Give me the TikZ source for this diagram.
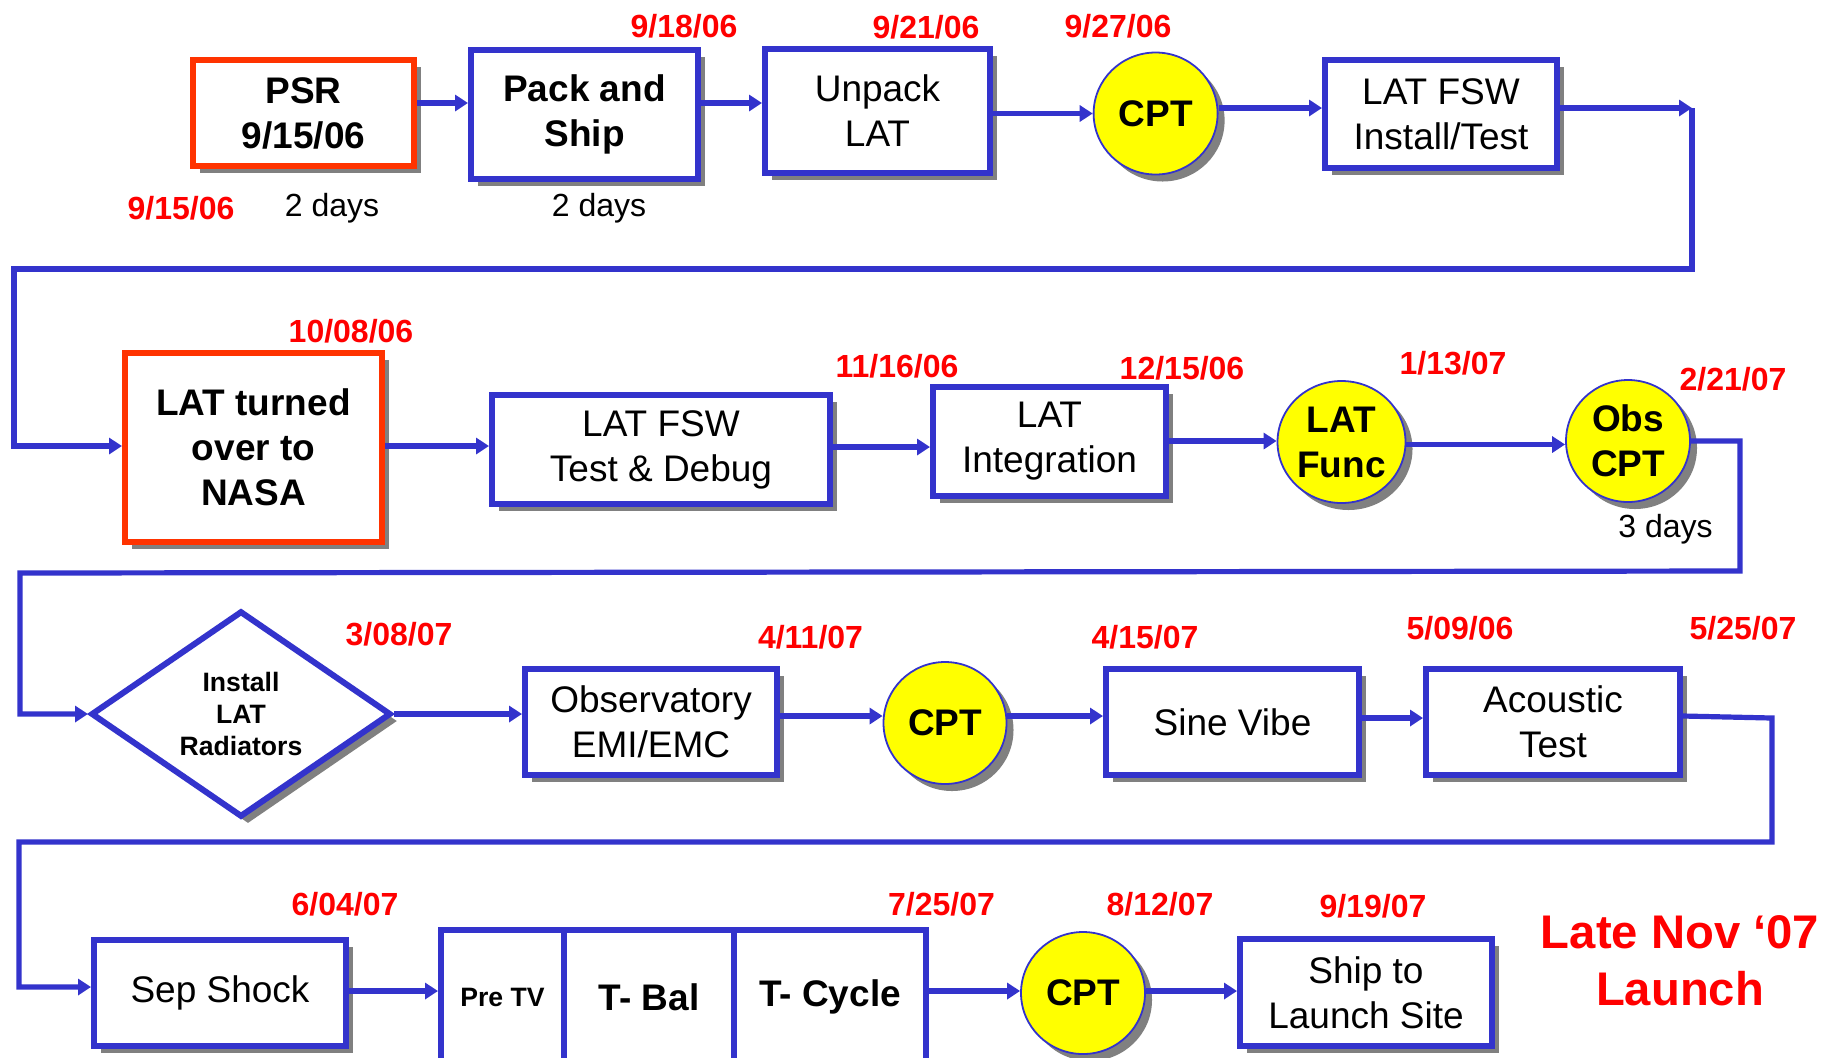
\documentclass[tikz,border=0pt]{standalone}
\usepackage{fontspec}
\setmainfont{Liberation Sans}
\usetikzlibrary{arrows.meta,shapes.geometric,shadows}
\definecolor{lblue}{HTML}{3333CC}
\definecolor{lred}{HTML}{FF0000}
\definecolor{bred}{HTML}{FF3300}
\definecolor{lyel}{HTML}{FFFF00}
\definecolor{shdgray}{HTML}{808080}
\newcommand\normtxt{\fontsize{18.5pt}{22.5pt}\selectfont}
\newcommand\smalltxt{\fontsize{13.3pt}{16pt}\selectfont}
\newcommand\datetxt{\fontsize{16pt}{19pt}\selectfont}
\newcommand\bigtxt{\fontsize{23.6pt}{28.5pt}\selectfont}
\begin{document}
\begin{tikzpicture}[x=0.5pt,y=-0.5pt,
  shd/.style={drop shadow={shadow xshift=3.5pt,shadow yshift=-3.5pt,fill=shdgray,opacity=1}},
  box/.style={rectangle,draw=lblue,line width=3pt,fill=white,inner sep=0pt,align=center,font=\normtxt,shd},
  redbox/.style={box,draw=bred,font=\normtxt\bfseries},
  plainbox/.style={rectangle,draw=lblue,line width=3pt,fill=white,inner sep=0pt,align=center,font=\normtxt\bfseries},
  oval/.style={ellipse,draw=lblue,line width=0.9pt,fill=lyel,inner sep=0pt,align=center,font=\normtxt\bfseries,shd},
  dia/.style={diamond,draw=lblue,line width=3pt,fill=white,inner sep=0pt,align=center,font=\smalltxt\bfseries,shd},
  datelbl/.style={font=\datetxt\bfseries,text=lred,inner sep=0pt},
  dayslbl/.style={font=\datetxt,text=black,inner sep=0pt},
  conn/.style={draw=lblue,line width=2.6pt},
  arr/.style={conn,-{Triangle[length=6.5pt,width=8pt]}}
]
\useasboundingbox (0,0) rectangle (1834,1057);
\fill[white] (0,0) rectangle (1834,1057);

% ---------- row 1 ----------
\node[redbox,minimum width=110.5pt,minimum height=53pt] (psr) at (303.5,113) {PSR\\9/15/06};
\node[box,font=\normtxt\bfseries,minimum width=113.5pt,minimum height=64.5pt] (pack) at (584.5,114.5) {Pack and\\Ship};
\node[box,minimum width=112.5pt,minimum height=62pt] (unpack) at (877.5,111) {Unpack\\LAT};
\node[oval,minimum width=62pt,minimum height=61pt] (cpta) at (1155.6,113.5) {CPT};
\node[box,minimum width=116pt,minimum height=54pt] (fswa) at (1441,114) {LAT FSW\\Install/Test};
\coordinate (ca) at (1692,108);

\draw[arr] (psr.east |- 0,103) -- (pack.west |- 0,103);
\draw[arr] (pack.east |- 0,103) -- (unpack.west |- 0,103);
\draw[arr] (unpack.east |- cpta.west) -- (cpta.west);
\draw[arr] (cpta.east |- 0,108) -- (fswa.west |- 0,108);
\draw[arr] (fswa.east |- ca) -- (ca);

\node[datelbl] (d1) at (684,26) {9/18/06};
\node[datelbl] (d2) at (926,27) {9/21/06};
\node[datelbl] (d3) at (1118,26) {9/27/06};
\node[datelbl] (d0) at (181,208) {9/15/06};
\node[dayslbl] (days1) at (332,208) {2 days};
\node[dayslbl] (days2) at (599,208) {2 days};

% ---------- row 2 ----------
\node[redbox,minimum width=128.5pt,minimum height=94.5pt] (nasa) at (253.5,447.5) {LAT turned\\over to\\NASA};
\node[box,minimum width=169pt,minimum height=54.5pt] (fswb) at (661,449.5) {LAT FSW\\Test \& Debug};
\node[box,minimum width=116.5pt,minimum height=54.5pt] (latint) at (1049.5,441.5) {LAT\\Integration};
\node[oval,minimum width=64pt,minimum height=61pt] (latfunc) at (1341.5,442) {LAT\\Func};
\node[oval,minimum width=62pt,minimum height=61pt] (obscpt) at (1628,441) {Obs\\CPT};

\draw[arr] (ca) -- (1692,269) -- (14,269) -- (14,446) -- (nasa.west |- 0,446);
\draw[arr] (nasa.east |- 0,446) -- (fswb.west |- 0,446);
\draw[arr] (fswb.east |- 0,447) -- (latint.west |- 0,447);
\draw[arr] (latint.east |- 0,441) -- (latfunc.west |- 0,441);
\draw[arr] (latfunc.east |- 0,444.5) -- (obscpt.west |- 0,444.5);

\node[datelbl] (d4) at (351,331) {10/08/06};
\node[datelbl] (d5) at (897,366) {11/16/06};
\node[datelbl] (d6) at (1182,368) {12/15/06};
\node[datelbl] (d7) at (1453,363) {1/13/07};
\node[datelbl] (d8) at (1733,379) {2/21/07};
\node[dayslbl] (days3) at (1665.5,529) {3 days};

% ---------- row 3 ----------
\node[dia,minimum width=150pt,minimum height=92.5pt] (rad) at (241,714) {Install\\LAT\\Radiators};
\node[box,minimum width=126pt,minimum height=53pt] (emi) at (651,722) {Observatory\\EMI/EMC};
\node[oval,minimum width=61.5pt,minimum height=61pt] (cptc) at (945,723) {CPT};
\node[box,minimum width=126.5pt,minimum height=53pt] (sine) at (1232.5,722) {Sine Vibe};
\node[box,minimum width=127pt,minimum height=53pt] (acou) at (1553,722) {Acoustic\\Test};

\draw[arr] (obscpt.east) -- (1740,441) -- (1740,571) -- (20,573) -- (20,714) -- (rad.west);
\draw[arr] (rad.east) -- (emi.west |- rad.east);
\draw[arr] (emi.east |- 0,716) -- (cptc.west |- 0,716);
\draw[arr] (cptc.east |- 0,716) -- (sine.west |- 0,716);
\draw[arr] (sine.east |- 0,718) -- (acou.west |- 0,718);

\node[datelbl] (d9) at (399,634) {3/08/07};
\node[datelbl] (d10) at (810.5,637) {4/11/07};
\node[datelbl] (d11) at (1145,637) {4/15/07};
\node[datelbl] (d12) at (1460,628) {5/09/06};
\node[datelbl] (d13) at (1743,628) {5/25/07};

% ---------- row 4 ----------
\node[box,minimum width=126pt,minimum height=53pt] (sep) at (220,993) {Sep Shock};
\node[plainbox,font=\smalltxt\bfseries,minimum width=61.5pt,minimum height=67pt] (pretv) at (502.5,997) {Pre TV};
\node[plainbox,minimum width=85pt,minimum height=67pt] (tbal) at (649,997) {T- Bal};
\node[plainbox,minimum width=96pt,minimum height=67pt] (tcyc) at (830,997) {T- Cycle};
\node[oval,minimum width=62pt,minimum height=61pt] (cptd) at (1083,993) {CPT};
\node[box,minimum width=126pt,minimum height=53.5pt] (ship) at (1366,992.5) {Ship to\\Launch Site};

\draw[arr] (acou.east |- 0,716) -- (1772,718) -- (1772,842) -- (19,842) -- (19,987) -- (sep.west |- 0,987);
\draw[arr] (sep.east |- 0,991) -- (pretv.west |- 0,991);
\draw[arr] (tcyc.east |- 0,991) -- (cptd.west |- 0,991);
\draw[arr] (cptd.east |- 0,991) -- (ship.west |- 0,991);

\node[datelbl] (d14) at (345,904) {6/04/07};
\node[datelbl] (d15) at (941.5,904) {7/25/07};
\node[datelbl] (d16) at (1160,904) {8/12/07};
\node[datelbl] (d17) at (1373,906) {9/19/07};
\node[font=\bigtxt\bfseries,text=lred,align=center,inner sep=0pt] (launch) at (1680,961) {Late Nov ‘07\\Launch};
\end{tikzpicture}
\end{document}
